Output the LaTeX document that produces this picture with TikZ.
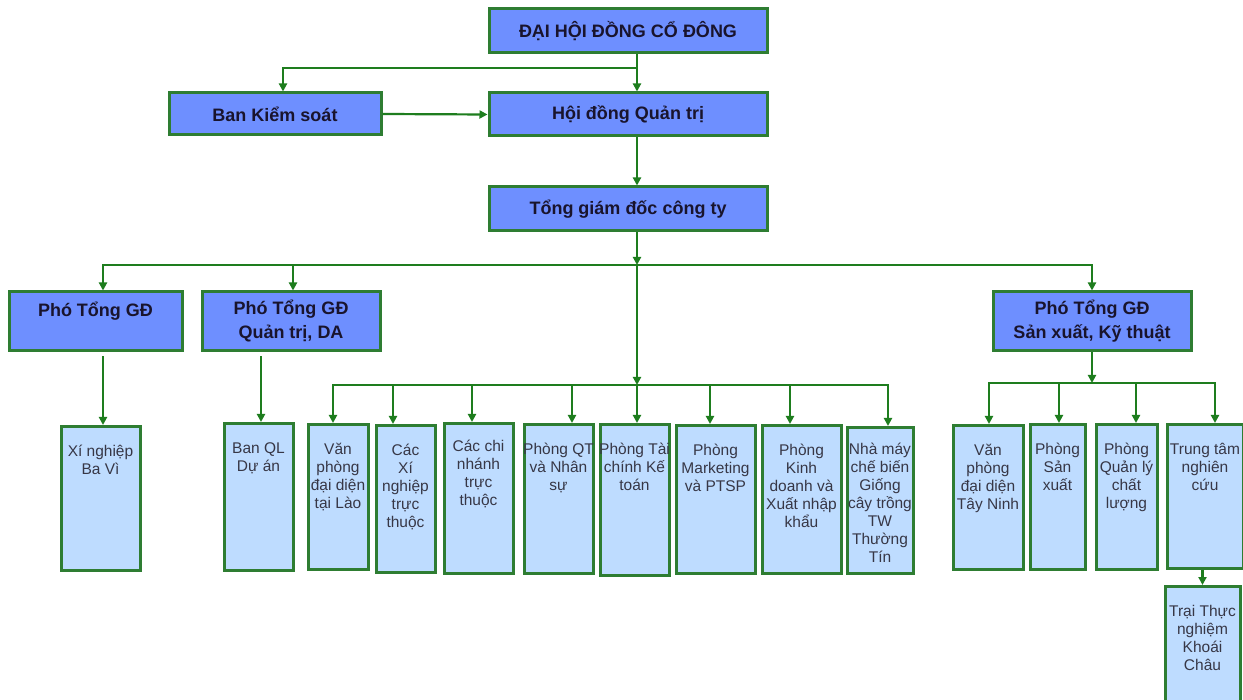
\documentclass[tikz,border=0pt]{standalone}
\usepackage{fontspec}
\setmainfont{Liberation Sans}
\usetikzlibrary{arrows.meta}

\definecolor{boxgreen}{RGB}{46,125,50}
\definecolor{linegreen}{RGB}{30,125,30}
\definecolor{headblue}{RGB}{110,143,255}
\definecolor{subblue}{RGB}{190,220,255}
\definecolor{headtext}{RGB}{25,20,45}
\definecolor{subtext}{RGB}{55,55,70}

\begin{document}
\begin{tikzpicture}[x=1pt,y=-1pt]
	\tikzstyle{head}=[draw=boxgreen,fill=headblue,line width=3pt,inner sep=0pt,
	align=center,text=headtext,font=\fontsize{18}{24}\selectfont\bfseries]
	\tikzstyle{sub}=[draw=boxgreen,fill=subblue,line width=3pt,anchor=north,inner sep=0pt]
	\tikzstyle{subtxt}=[anchor=north,align=center,inner sep=0pt,yshift=-20pt,
	text=subtext,font=\fontsize{15.5}{18}\selectfont]
	\tikzstyle{arr}=[draw=linegreen,line width=2.2pt,-{Triangle[length=8pt,width=8pt]}]
	\useasboundingbox (0,0) rectangle (1243,700);
	\fill[white] (0,0) rectangle (1243,700);

	% top of the chart
	\node[head,minimum width=278pt,minimum height=44pt] (dhcd) at (628,31) {ĐẠI HỘI ĐỒNG CỔ ĐÔNG};
	\node[head,minimum width=212pt,minimum height=42pt] (bks) at (275,114) {Ban Kiểm soát};
	\node[head,minimum width=278pt,minimum height=43pt] (hdqt) at (628,114.5) {Hội đồng Quản trị};
	\node[head,minimum width=278pt,minimum height=44pt] (tgd) at (628,209) {Tổng giám đốc công ty};

	% deputies
	\node[head,minimum width=173pt,minimum height=59pt] (pho1) at (95.5,321.5) {Phó Tổng GĐ\\ ~};
	\node[head,minimum width=178pt,minimum height=59pt] (pho2) at (291,321.5) {Phó Tổng GĐ\\Quản trị, DA};
	\node[head,minimum width=198pt,minimum height=59pt] (pho3) at (1092,321.5) {Phó Tổng GĐ\\Sản xuất, Kỹ thuật};

	% units
	\node[sub,minimum width=79pt,minimum height=144pt,label={[subtxt]north:Xí nghiệp\\Ba Vì}] (bavi) at (100.5,425) {};
	\node[sub,minimum width=69pt,minimum height=147pt,label={[subtxt]north:Ban QL\\Dự án}] (banql) at (258.5,422) {};
	\node[sub,minimum width=60pt,minimum height=145pt,label={[subtxt]north:Văn\\phòng\\đại diện\\tại Lào}] (vplao) at (338,423) {};
	\node[sub,minimum width=59pt,minimum height=147pt,label={[subtxt]north:Các\\Xí\\nghiệp\\trực\\thuộc}] (cacxn) at (405.5,424) {};
	\node[sub,minimum width=69pt,minimum height=150pt,label={[subtxt,yshift=2pt]north:Các chi\\nhánh\\trực\\thuộc}] (cacchn) at (478.5,422) {};
	\node[sub,minimum width=69pt,minimum height=149pt,label={[subtxt]north:Phòng QT\\và Nhân\\sự}] (pqt) at (558.5,423) {};
	\node[sub,minimum width=69pt,minimum height=151pt,label={[subtxt]north:Phòng Tài\\chính Kế\\toán}] (ptc) at (634.5,423) {};
	\node[sub,minimum width=79pt,minimum height=148pt,label={[subtxt]north:Phòng\\Marketing\\và PTSP}] (pmkt) at (715.5,424) {};
	\node[sub,minimum width=79pt,minimum height=148pt,label={[subtxt]north:Phòng\\Kinh\\doanh và\\Xuất nhập\\khẩu}] (pkd) at (801.5,424) {};
	\node[sub,minimum width=66pt,minimum height=146pt,label={[subtxt,yshift=3pt]north:Nhà máy\\chế biến\\Giống\\cây trồng\\TW\\Thường\\Tín}] (nmay) at (880,426) {};

	\node[sub,minimum width=70pt,minimum height=144pt,label={[subtxt]north:Văn\\phòng\\đại diện\\Tây Ninh}] (vptn) at (988,424) {};
	\node[sub,minimum width=55pt,minimum height=145pt,label={[subtxt]north:Phòng\\Sản\\xuất}] (psx) at (1057.5,423) {};
	\node[sub,minimum width=61pt,minimum height=145pt,label={[subtxt]north:Phòng\\Quản lý\\chất\\lượng}] (pql) at (1126.5,423) {};
	\node[sub,minimum width=76pt,minimum height=144pt,label={[subtxt]north:Trung tâm\\nghiên\\cứu}] (ttnc) at (1205,423) {};
	\node[sub,minimum width=75pt,minimum height=130pt,label={[subtxt]north:Trại Thực\\nghiệm\\Khoái\\Châu}] (trai) at (1202.5,585) {};

	% connectors
	\coordinate (j1) at (637,68);
	\coordinate (j2) at (637,265);
	\coordinate (j3) at (637,385);
	\coordinate (j4) at (1092,383);

	\draw[arr] ([xshift=9pt]dhcd.south) -- ([xshift=9pt]hdqt.north);
	\draw[arr] (j1) -| ([xshift=8pt]bks.north);
	\draw[arr] (bks.east) -- (hdqt.west);
	\draw[arr] ([xshift=9pt]hdqt.south) -- ([xshift=9pt]tgd.north);
	\draw[arr] ([xshift=9pt]tgd.south) -- (j2);
	\draw[arr] (j2) -| ([xshift=7.5pt]pho1.north);
	\draw[arr] (j2) -| ([xshift=2pt]pho2.north);
	\draw[arr] (j2) -| (pho3.north);

	\draw[arr] ([xshift=7.5pt,yshift=-4pt]pho1.south) -- ([xshift=2.5pt]bavi.north);
	\draw[arr] ([xshift=-30pt,yshift=-4pt]pho2.south) -- ([xshift=2.5pt]banql.north);

	\draw[arr] (j2) -- (j3);
	\draw[arr] (j3) -- ([xshift=2.5pt]ptc.north);
	\draw[arr] (j3) -| ([xshift=-5pt]vplao.north);
	\draw[arr] (j3) -| ([xshift=-12.5pt]cacxn.north);
	\draw[arr] (j3) -| ([xshift=-6.5pt]cacchn.north);
	\draw[arr] (j3) -| ([xshift=13.5pt]pqt.north);
	\draw[arr] (j3) -| ([xshift=-5.5pt]pmkt.north);
	\draw[arr] (j3) -| ([xshift=-11.5pt]pkd.north);
	\draw[arr] (j3) -| ([xshift=8pt]nmay.north);

	\draw[arr] (pho3.south) -- (j4);
	\draw[arr] (j4) -| ([xshift=1pt]vptn.north);
	\draw[arr] (j4) -| ([xshift=1.5pt]psx.north);
	\draw[arr] (j4) -| ([xshift=9.5pt]pql.north);
	\draw[arr] (j4) -| ([xshift=10pt]ttnc.north);
	\draw[arr] (ttnc.south -| trai.north) -- (trai.north);
\end{tikzpicture}
\end{document}
